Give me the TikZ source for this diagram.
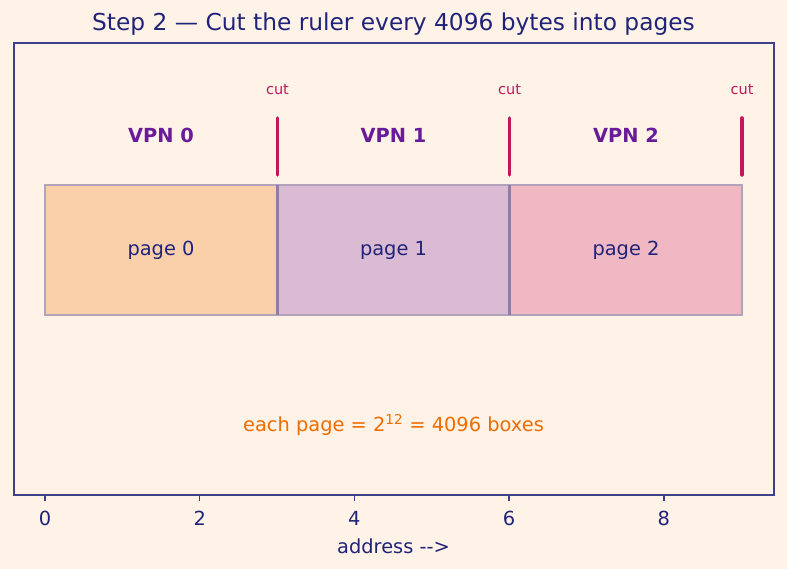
\documentclass[tikz,border=0pt]{standalone}
\usepackage{fontspec}
\setmainfont{DejaVu Sans}
\definecolor{bgc}{HTML}{FFF2E7}
\definecolor{navy}{HTML}{1F237A}
\definecolor{framec}{HTML}{40408A}
\definecolor{cutc}{HTML}{C2185B}
\definecolor{vpnc}{HTML}{6A1B9A}
\definecolor{orangec}{HTML}{EF6C00}
\definecolor{pzero}{HTML}{F9D0AA}
\definecolor{pone}{HTML}{DBBAD3}
\definecolor{ptwo}{HTML}{EFB8C3}
\definecolor{edgec}{HTML}{B3A3BA}
\definecolor{divc}{HTML}{8F7FA5}
\tikzset{
  lbl/.style={font=\fontsize{19.4}{23}\selectfont, text=navy, inner sep=0pt},
  vpnlbl/.style={font=\fontsize{19.4}{23}\selectfont\bfseries, text=vpnc, inner sep=0pt},
  cutlbl/.style={font=\fontsize{14.5}{17}\selectfont, text=cutc, inner sep=0pt},
  cutline/.style={draw=cutc, line width=3.5pt, line cap=round},
  pagebox/.style={draw=edgec, line width=2.5pt},
  tickm/.style={draw=framec, line width=1.5pt}
}
\begin{document}
\begin{tikzpicture}[x=1pt,y=-1pt]
\fill[bgc] (0,0) rectangle (787,569);
\useasboundingbox (0,0) rectangle (787,569);
% title
\node[lbl, font=\fontsize{23.3}{28}\selectfont] (title) at (393.5,24) {Step 2 — Cut the ruler every 4096 bytes into pages};
% pages
\path[fill=pzero] (45,185) rectangle (277.5,315);
\path[fill=pone] (277.5,185) rectangle (509.5,315);
\path[fill=ptwo] (509.5,185) rectangle (742,315);
\draw[pagebox] (45,185) rectangle (742,315);
\draw[divc, line width=2.5pt] (277.5,185) -- (277.5,315);
\draw[divc, line width=2.5pt] (509.5,185) -- (509.5,315);
\node[lbl] (p0) at (161,250) {page 0};
\node[lbl] (p1) at (393.5,250) {page 1};
\node[lbl] (p2) at (626,250) {page 2};
% VPN labels
\node[vpnlbl] (v0) at (161,135) {VPN 0};
\node[vpnlbl] (v1) at (393.5,135) {VPN 1};
\node[vpnlbl] (v2) at (626,135) {VPN 2};
% cuts
\coordinate (c0t) at (277.5,118); \coordinate (c0b) at (277.5,175);
\coordinate (c1t) at (509.5,118); \coordinate (c1b) at (509.5,175);
\coordinate (c2t) at (742,118); \coordinate (c2b) at (742,175);
\draw[cutline] (c0t) -- (c0b);
\draw[cutline] (c1t) -- (c1b);
\draw[cutline] (c2t) -- (c2b);
\node[cutlbl] (k0) at (277.5,90) {cut};
\node[cutlbl] (k1) at (509.5,90) {cut};
\node[cutlbl] (k2) at (742,90) {cut};
% note
\node[lbl, text=orangec] (note) at (393.5,425) {each page = 2\textsuperscript{12} = 4096 boxes};
% frame
\draw[framec, line width=1.5pt] (14,43) rectangle (774,495);
% ticks
\foreach \k/\v in {0/0,1/2,2/4,3/6,4/8}{
  \draw[tickm] ({45+154.7*\k},495) -- ({45+154.7*\k},501);
  \node[lbl] (t\k) at ({45+154.7*\k},518) {\v};
}
\node[lbl] (xlab) at (393.5,546) {address -{}-{}>};
\end{tikzpicture}
\end{document}
